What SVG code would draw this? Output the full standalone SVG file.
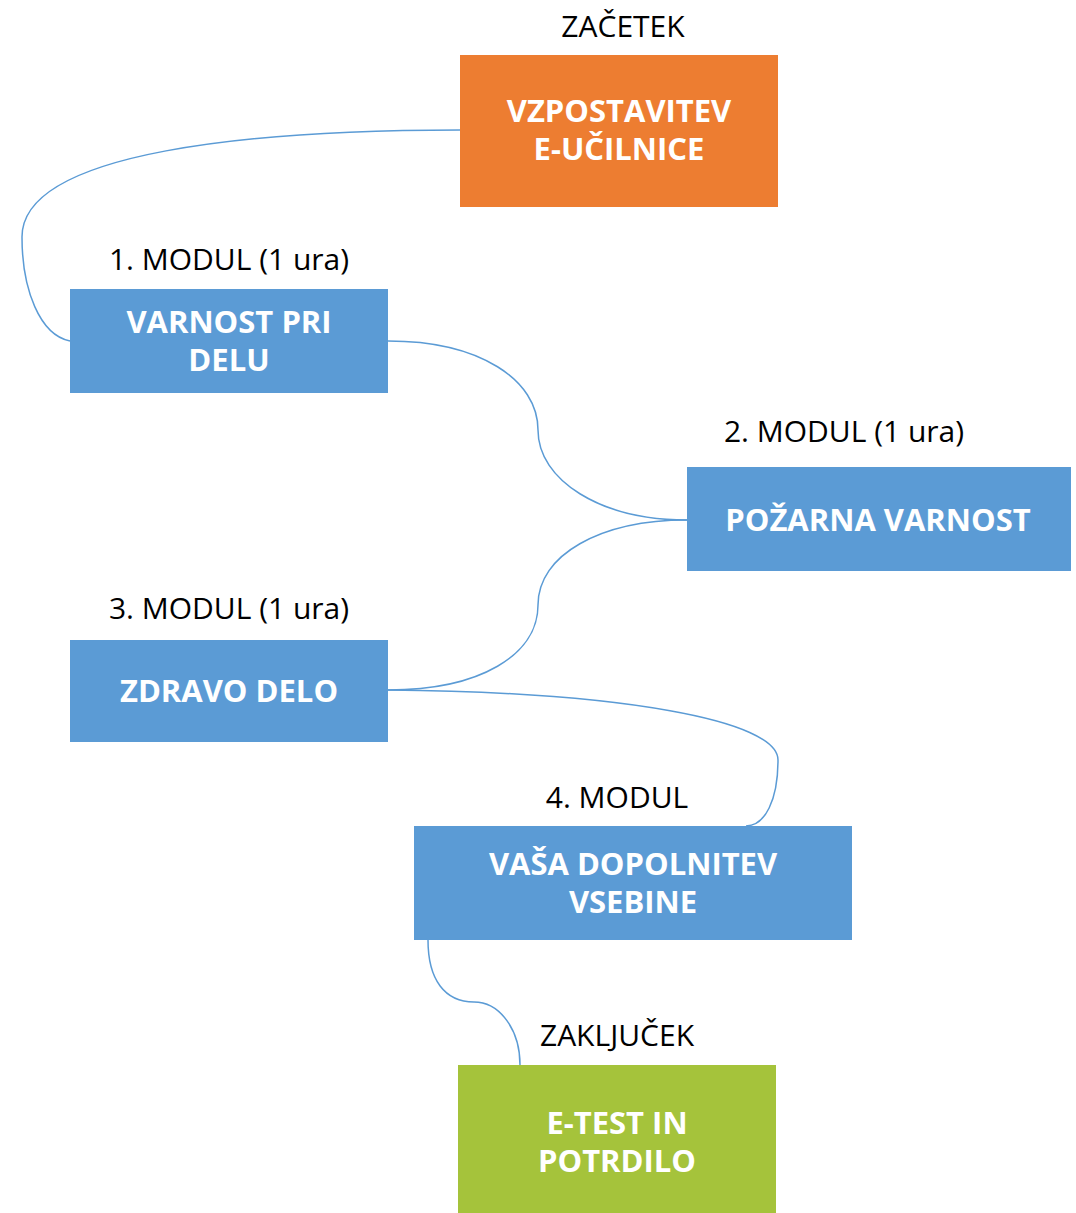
<svg xmlns="http://www.w3.org/2000/svg" width="1076" height="1213" viewBox="0 0 1076 1213">
<style>
.box-o{fill:#ed7d31}
.box-b{fill:#5b9bd5}
.box-g{fill:#a5c33b}
.t{font-family:"Open Sans","Noto Sans","Liberation Sans",sans-serif;font-weight:bold;font-size:31px;fill:#ffffff;text-anchor:middle}
.l{font-family:"Open Sans","Noto Sans","Liberation Sans",sans-serif;font-size:30px;fill:#000000;text-anchor:middle}
.c{fill:none;stroke:#5b9bd5;stroke-width:1.5}
</style>
<rect width="1076" height="1213" fill="#ffffff"/>
<g id="connectors">
<path class="c" d="M460,130 C260,130 22,150 22,237 C22,290 40,335 70,341"/>
<path class="c" d="M388,341 C480,341 538,380 538,430 C538,480 600,520 687,520"/>
<path class="c" d="M687,520 C600,520 538,555 538,605 C538,655 480,690 388,690"/>
<path class="c" d="M388,690 C620,692 778,720 778,760 C778,800 765,826 746,826"/>
<path class="c" d="M428,940 C428,980 445,1002 474,1002 C500,1002 520,1030 520,1065"/>
</g>
<g id="start">
<text class="l" x="623" y="37">ZAČETEK</text>
<rect class="box-o" x="460" y="55" width="318" height="152"/>
<text class="t" x="619" y="122">VZPOSTAVITEV</text>
<text class="t" x="619" y="160">E-UČILNICE</text>
</g>
<g id="modul1">
<text class="l" x="229" y="270">1. MODUL (1 ura)</text>
<rect class="box-b" x="70" y="289" width="318" height="104"/>
<text class="t" x="229" y="333">VARNOST PRI</text>
<text class="t" x="229" y="371">DELU</text>
</g>
<g id="modul2">
<text class="l" x="844" y="442">2. MODUL (1 ura)</text>
<rect class="box-b" x="687" y="467" width="384" height="104"/>
<text class="t" x="878" y="531">POŽARNA VARNOST</text>
</g>
<g id="modul3">
<text class="l" x="229" y="619">3. MODUL (1 ura)</text>
<rect class="box-b" x="70" y="640" width="318" height="102"/>
<text class="t" x="229" y="702">ZDRAVO DELO</text>
</g>
<g id="modul4">
<text class="l" x="617" y="808">4. MODUL</text>
<rect class="box-b" x="414" y="826" width="438" height="114"/>
<text class="t" x="633" y="875">VAŠA DOPOLNITEV</text>
<text class="t" x="633" y="913">VSEBINE</text>
</g>
<g id="end">
<text class="l" x="617" y="1046">ZAKLJUČEK</text>
<rect class="box-g" x="458" y="1065" width="318" height="148"/>
<text class="t" x="617" y="1134">E-TEST IN</text>
<text class="t" x="617" y="1172">POTRDILO</text>
</g>
</svg>
